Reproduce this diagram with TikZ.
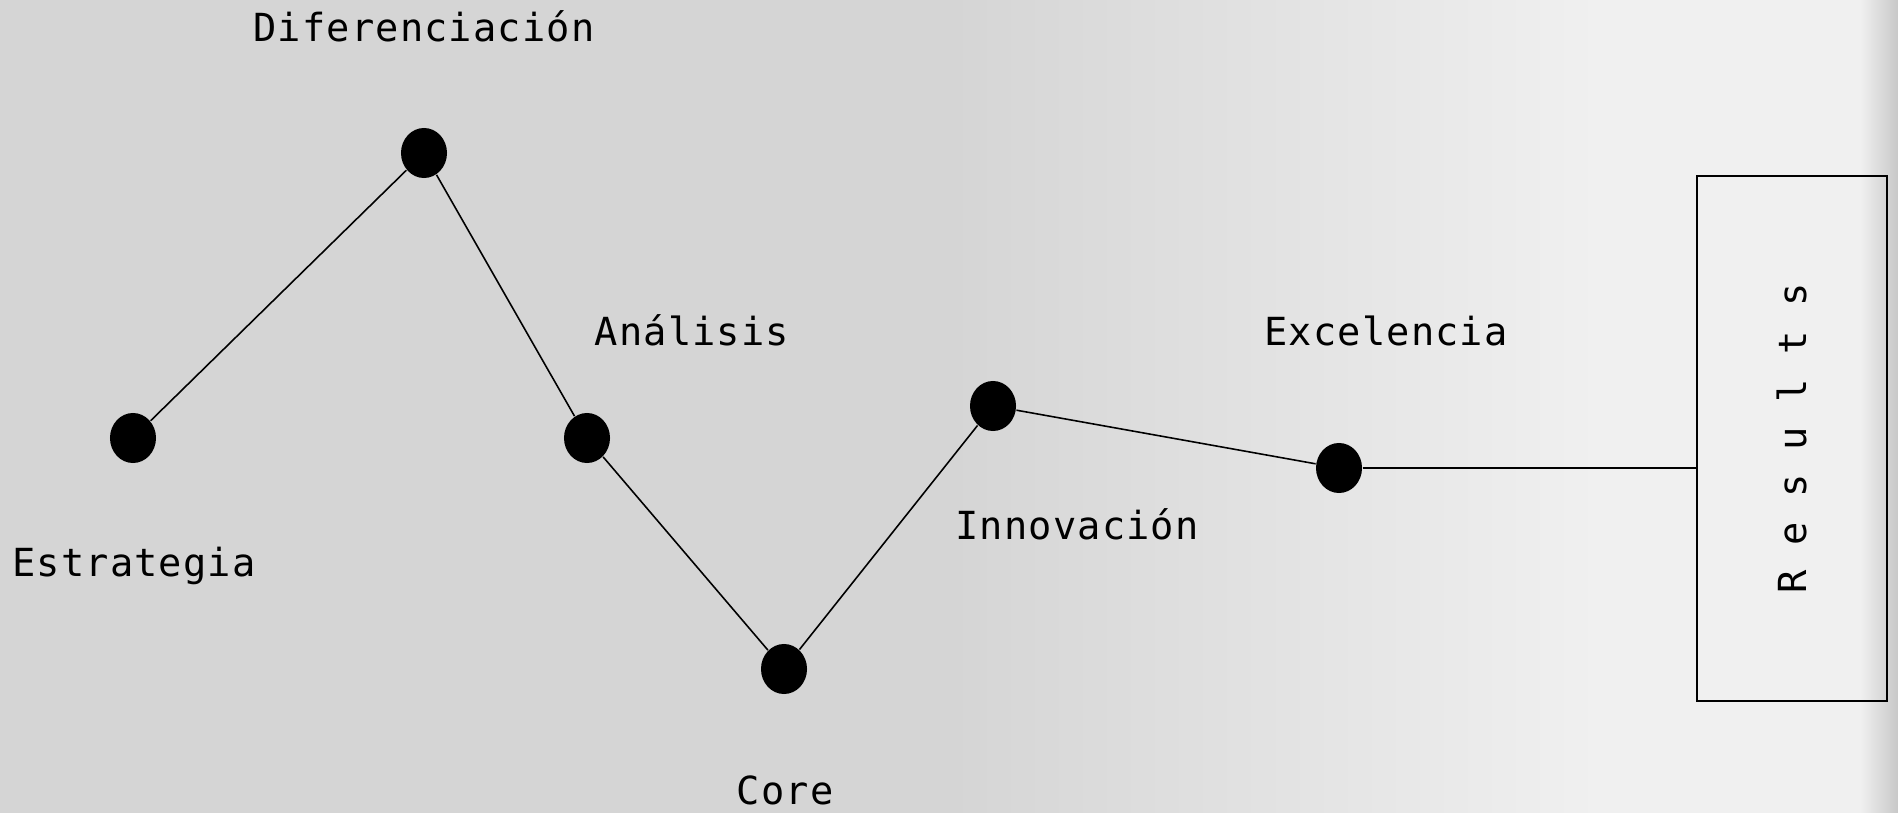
\documentclass[tikz,border=0pt]{standalone}
\usepackage{fontspec}
\setmonofont[LetterSpace=3]{DejaVu Sans Mono}
\usepackage{graphicx}
\usepackage{tikz}
\usetikzlibrary{shapes.geometric}
\definecolor{bgdark}{RGB}{213,213,213}
\definecolor{bglight}{RGB}{240,240,240}
\definecolor{bgedge}{RGB}{200,200,200}
\tikzstyle{vertex}=[ellipse, fill=black, draw=none, inner sep=0pt, minimum width=0.46cm, minimum height=0.5cm]
\tikzstyle{edge} = [draw,line width=0.45pt,-]
\tikzstyle{note} = [draw=none, inner sep=0pt, anchor=base, font=\ttfamily\fontsize{11}{13}\selectfont]
\tikzstyle{result box} = [draw, line width=0.5pt, inner sep=0pt, minimum width=1.9cm, minimum height=5.25cm, font=\ttfamily\fontsize{11}{13}\selectfont]

\begin{document}
\begin{tikzpicture}[x=0.01cm, y=-0.01cm]
	% Background
	\useasboundingbox (0,0) rectangle (1898,813);
	\fill[bgdark] (0,0) rectangle (1898,813);
	\shade[left color=bgdark, right color=bglight] (950,0) rectangle (1600,813);
	\fill[bglight] (1600,0) rectangle (1860,813);
	\shade[left color=bglight, right color=bgedge] (1860,0) rectangle (1898,813);
	
	% First we draw the vertices
	\foreach \pos/\label in {
		{(133,438)/1},
		{(424,153)/2},
		{(587,438)/3},
		{(784,669)/4},
		{(993,406)/5},
		{(1339,468)/6}}
	\node[vertex] (\label) at \pos{};
	
	% Labels
	\foreach \pos/\label/\name in {
		{(134,577)/l1/Estrategia},
		{(424,42)/l2/Diferenciación},
		{(692,346)/l3/Análisis},
		{(785,804)/l4/Core},
		{(1077,540)/l5/Innovación},
		{(1386,346)/l6/Excelencia}}
	\node[note] (\label) at \pos{\name};
	
	\node[result box] (res) at (1792,438.5) {\rotatebox{90}{R e s u l t s}};
	
	% Connect vertices with edges
	\foreach \source/ \dest in {
		1/2,
		2/3,
		3/4,
		4/5,
		5/6}
	\path[edge] (\source) -- (\dest);
	\path[edge] (6) -- (6 -| res.west);
\end{tikzpicture}
\end{document}
